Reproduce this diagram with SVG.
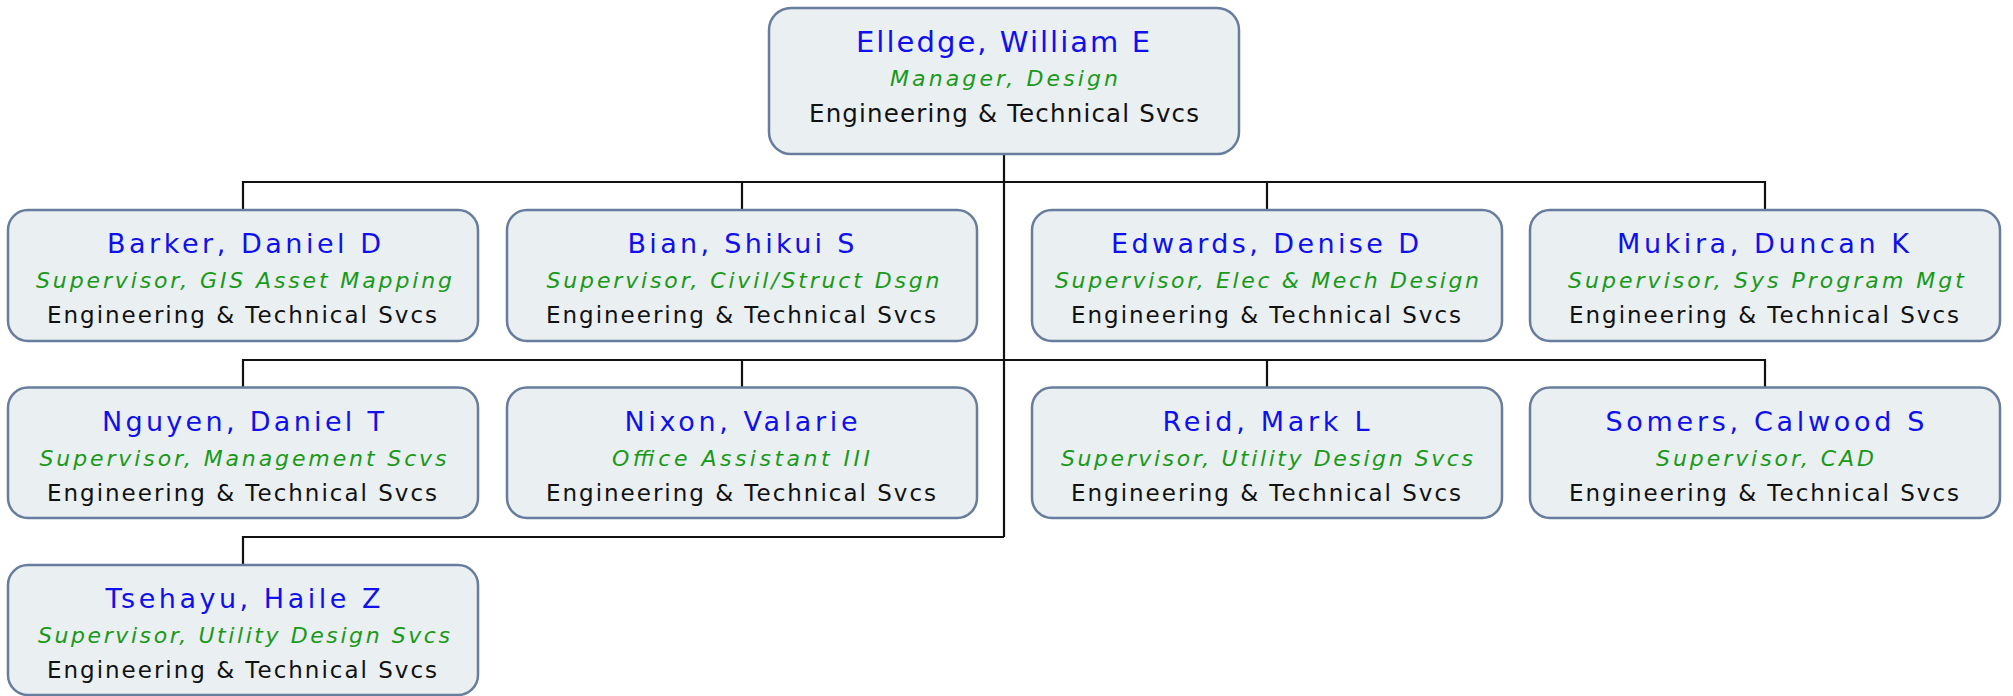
<svg xmlns="http://www.w3.org/2000/svg" width="2013" height="696" viewBox="0 0 2013 696">
<style>
.box{fill:#eaeff2;stroke:#687d9d;stroke-width:2.5}
.nm{font-family:"DejaVu Sans",Verdana,sans-serif;font-size:27px;fill:#1010ee;text-anchor:middle}
.tt{font-family:"DejaVu Sans",Verdana,sans-serif;font-size:22px;font-style:italic;fill:#189a18;text-anchor:middle}
.dp{font-family:"DejaVu Sans",Verdana,sans-serif;font-size:23px;fill:#111;text-anchor:middle}
.con{fill:none;stroke:#111;stroke-width:2.2}
</style>
<rect width="2013" height="696" fill="#fff"/>
<g id="connectors">
<path class="con" d="M1004 154V537"/>
<path class="con" d="M243 210V182H1765V210M742 182V210M1267 182V210"/>
<path class="con" d="M243 388V360H1765V388M742 360V388M1267 360V388"/>
<path class="con" d="M243 565V537H1004"/>
</g>
<g id="elledge">
<rect class="box" x="769" y="8" width="470" height="146" rx="22"/>
<text class="nm" x="1003" y="52" style="font-size:29px" textLength="294" lengthAdjust="spacing">Elledge, William E</text>
<text class="tt" x="1004" y="86" textLength="228" lengthAdjust="spacing">Manager, Design</text>
<text class="dp" x="1004" y="122" style="font-size:24.5px" textLength="390" lengthAdjust="spacing">Engineering &amp; Technical Svcs</text>
</g>
<g id="barker">
<rect class="box" x="8" y="210" width="470" height="131" rx="20"/>
<text class="nm" x="244" y="253" textLength="274" lengthAdjust="spacing">Barker, Daniel D</text>
<text class="tt" x="244" y="288" textLength="416" lengthAdjust="spacing">Supervisor, GIS Asset Mapping</text>
<text class="dp" x="242" y="323" textLength="390" lengthAdjust="spacing">Engineering &amp; Technical Svcs</text>
</g>
<g id="bian">
<rect class="box" x="507" y="210" width="470" height="131" rx="20"/>
<text class="nm" x="741" y="253" textLength="227" lengthAdjust="spacing">Bian, Shikui S</text>
<text class="tt" x="743" y="288" textLength="393" lengthAdjust="spacing">Supervisor, Civil/Struct Dsgn</text>
<text class="dp" x="741" y="323" textLength="390" lengthAdjust="spacing">Engineering &amp; Technical Svcs</text>
</g>
<g id="edwards">
<rect class="box" x="1032" y="210" width="470" height="131" rx="20"/>
<text class="nm" x="1265" y="253" textLength="308" lengthAdjust="spacing">Edwards, Denise D</text>
<text class="tt" x="1267" y="288" textLength="424" lengthAdjust="spacing">Supervisor, Elec &amp; Mech Design</text>
<text class="dp" x="1266" y="323" textLength="390" lengthAdjust="spacing">Engineering &amp; Technical Svcs</text>
</g>
<g id="mukira">
<rect class="box" x="1530" y="210" width="470" height="131" rx="20"/>
<text class="nm" x="1763" y="253" textLength="292" lengthAdjust="spacing">Mukira, Duncan K</text>
<text class="tt" x="1766" y="288" textLength="396" lengthAdjust="spacing">Supervisor, Sys Program Mgt</text>
<text class="dp" x="1764" y="323" textLength="390" lengthAdjust="spacing">Engineering &amp; Technical Svcs</text>
</g>
<g id="nguyen">
<rect class="box" x="8" y="387.5" width="470" height="130.5" rx="20"/>
<text class="nm" x="243" y="430.5" textLength="282" lengthAdjust="spacing">Nguyen, Daniel T</text>
<text class="tt" x="243" y="465.5" textLength="407" lengthAdjust="spacing">Supervisor, Management Scvs</text>
<text class="dp" x="242" y="500.5" textLength="390" lengthAdjust="spacing">Engineering &amp; Technical Svcs</text>
</g>
<g id="nixon">
<rect class="box" x="507" y="387.5" width="470" height="130.5" rx="20"/>
<text class="nm" x="741" y="430.5" textLength="233" lengthAdjust="spacing">Nixon, Valarie</text>
<text class="tt" x="741" y="465.5" textLength="258" lengthAdjust="spacing">Office Assistant III</text>
<text class="dp" x="741" y="500.5" textLength="390" lengthAdjust="spacing">Engineering &amp; Technical Svcs</text>
</g>
<g id="reid">
<rect class="box" x="1032" y="387.5" width="470" height="130.5" rx="20"/>
<text class="nm" x="1266" y="430.5" textLength="207" lengthAdjust="spacing">Reid, Mark L</text>
<text class="tt" x="1267" y="465.5" textLength="412" lengthAdjust="spacing">Supervisor, Utility Design Svcs</text>
<text class="dp" x="1266" y="500.5" textLength="390" lengthAdjust="spacing">Engineering &amp; Technical Svcs</text>
</g>
<g id="somers">
<rect class="box" x="1530" y="387.5" width="470" height="130.5" rx="20"/>
<text class="nm" x="1765" y="430.5" textLength="319" lengthAdjust="spacing">Somers, Calwood S</text>
<text class="tt" x="1765" y="465.5" textLength="218" lengthAdjust="spacing">Supervisor, CAD</text>
<text class="dp" x="1764" y="500.5" textLength="390" lengthAdjust="spacing">Engineering &amp; Technical Svcs</text>
</g>
<g id="tsehayu">
<rect class="box" x="8" y="565" width="470" height="130" rx="20"/>
<text class="nm" x="243" y="608" textLength="275" lengthAdjust="spacing">Tsehayu, Haile Z</text>
<text class="tt" x="244" y="643" textLength="412" lengthAdjust="spacing">Supervisor, Utility Design Svcs</text>
<text class="dp" x="242" y="678" textLength="390" lengthAdjust="spacing">Engineering &amp; Technical Svcs</text>
</g>
</svg>
